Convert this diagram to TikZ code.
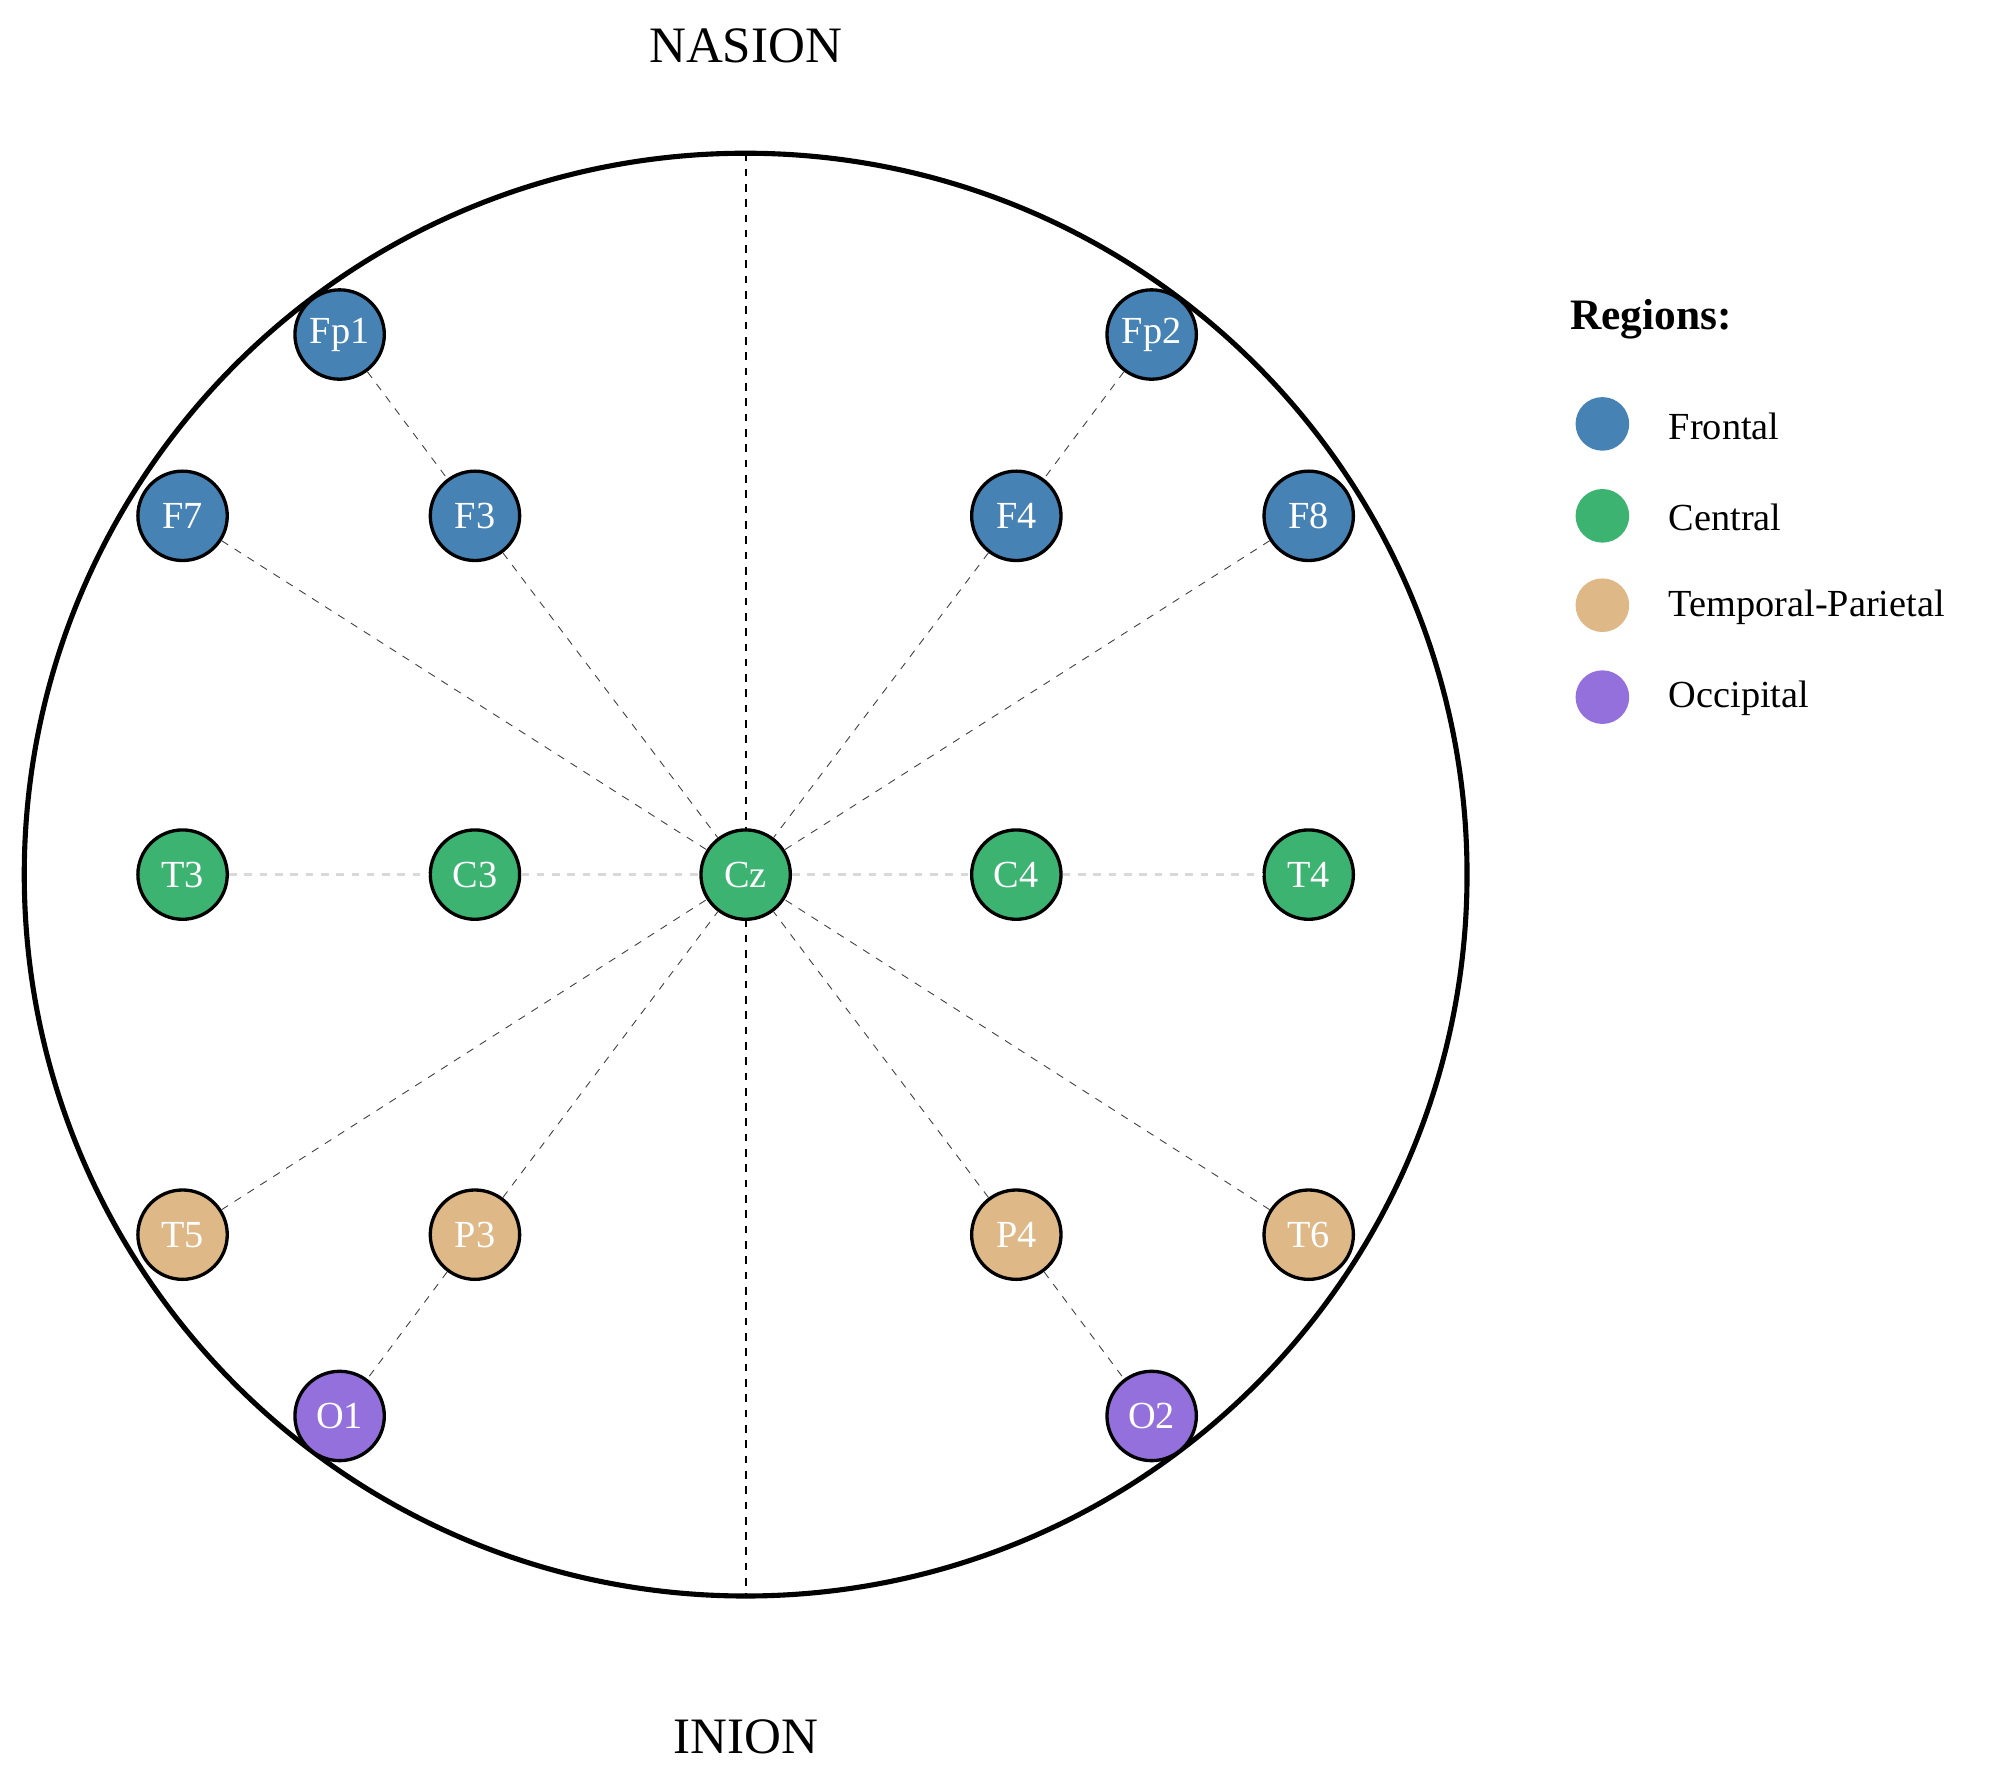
\documentclass[tikz,border=0pt]{standalone}
\usepackage{fontspec}
\setmainfont{Liberation Serif}
\begin{document}
\begin{tikzpicture}[x=0.5pt,y=-0.5pt,
  el/.style={circle,draw=black,line width=1.3pt,minimum size=35pt,inner sep=0pt,text=white,font=\fontsize{15}{15}\selectfont},
  fr/.style={el,fill=frc}, ce/.style={el,fill=cec}, tp/.style={el,fill=tpc}, oc/.style={el,fill=occ},
  thin link/.style={dashed,draw=black!75,line width=0.35pt},
  gray link/.style={dashed,draw=black!15,line width=1pt},
  lg/.style={circle,minimum size=21pt,inner sep=0pt},
  lt/.style={anchor=west,font=\fontsize{15}{15}\selectfont}]
\definecolor{frc}{HTML}{4682B4}
\definecolor{cec}{HTML}{3CB371}
\definecolor{tpc}{HTML}{DEB887}
\definecolor{occ}{HTML}{9370DB}
\useasboundingbox (0,0) rectangle (1568,1393);
\coordinate (top) at (584,120);
\coordinate (bot) at (584,1250);
\draw[dashed,line width=0.8pt] (top) -- (bot);
\draw[line width=2pt] (584,685) circle (565);
\node[fr] (Fp1) at (266,262) {Fp1};
\node[fr] (Fp2) at (902,262) {Fp2};
\node[fr] (F7) at (143,404) {F7};
\node[fr] (F3) at (372,404) {F3};
\node[fr] (F4) at (796,404) {F4};
\node[fr] (F8) at (1025,404) {F8};
\node[ce] (T3) at (143,685) {T3};
\node[ce] (C3) at (372,685) {C3};
\node[ce] (C4) at (796,685) {C4};
\node[ce] (T4) at (1025,685) {T4};
\node[tp] (T5) at (143,967) {T5};
\node[tp] (P3) at (372,967) {P3};
\node[tp] (P4) at (796,967) {P4};
\node[tp] (T6) at (1025,967) {T6};
\node[oc] (O1) at (266,1109) {O1};
\node[oc] (O2) at (902,1109) {O2};
\node[ce] (Cz) at (584,685) {Cz};
\begin{scope}[on background layer/.style={}]
\end{scope}
\foreach \a/\b in {Fp1/F3,Fp2/F4,F7/Cz,F3/Cz,F4/Cz,F8/Cz,T5/Cz,P3/Cz,P4/Cz,T6/Cz,P3/O1,P4/O2}
  \draw[thin link] (\a) -- (\b);
\foreach \a/\b in {T3/C3,C3/Cz,Cz/C4,C4/T4}
  \draw[gray link] (\a) -- (\b);
\node[font=\fontsize{20}{20}\selectfont] (nas) at (584,36) {NASION};
\node[font=\fontsize{20}{20}\selectfont] (ini) at (584,1360) {INION};
\node[font=\bfseries\fontsize{17}{17}\selectfont] (reg) at (1293,250) {Regions:};
\node[lg,fill=frc] (l1) at (1255,332) {};
\node[lg,fill=cec] (l2) at (1255,404) {};
\node[lg,fill=tpc] (l3) at (1255,474) {};
\node[lg,fill=occ] (l4) at (1255,546) {};
\node[lt] (t1) at (1300,334) {Frontal};
\node[lt] (t2) at (1300,405) {Central};
\node[lt] (t3) at (1300,476) {Temporal-Parietal};
\node[lt] (t4) at (1300,547) {Occipital};
\end{tikzpicture}
\end{document}
